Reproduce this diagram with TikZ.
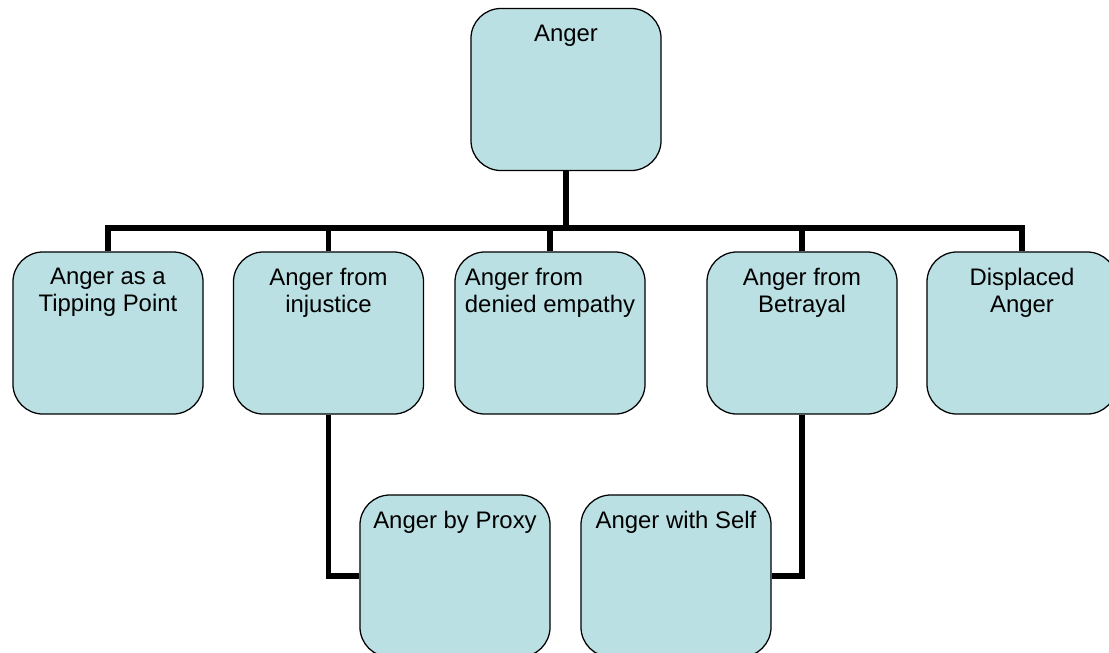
\documentclass[tikz,border=0pt]{standalone}
\usepackage{fontspec}
\setmainfont{Liberation Sans}
\definecolor{boxblue}{RGB}{187,224,227}
\begin{document}
\begin{tikzpicture}[x=0.025cm,y=-0.025cm,
  box/.style={draw=black, line width=0.9pt, fill=boxblue, rounded corners=0.75cm,
    minimum width=4.75cm, minimum height=4.05cm, inner sep=0pt},
  lbl/.style={anchor=north, yshift=-0.42cm, inner sep=0pt, align=center,
    font=\fontsize{17}{19.2}\selectfont},
  link/.style={line width=3.8pt}]

\useasboundingbox (0,0) rectangle (1109,652);
\clip (0,0) rectangle (1109,652);

% top
\node[box, label={[lbl]north:Anger}] (anger) at (566,89.5) {};

% second row
\node[box, label={[lbl]north:{Anger as a\\Tipping Point}}] (tipping) at (108,333) {};
\node[box, label={[lbl]north:{Anger from\\injustice}}] (injustice) at (328.5,333) {};
\node[box, label={[lbl,align=left]north:{Anger from\\denied empathy}}] (empathy) at (550,333) {};
\node[box, label={[lbl]north:{Anger from\\Betrayal}}] (betrayal) at (802,333) {};
\node[box, label={[lbl]north:{Displaced\\Anger}}] (displaced) at (1022,333) {};

% third row
\node[box, label={[lbl]north:Anger by Proxy}] (proxy) at (455,576) {};
\node[box, label={[lbl]north:Anger with Self}] (self) at (676,576) {};

\coordinate (bus) at (566,228);
\draw[link] (anger.south) -- (bus);
\draw[link] (tipping.north) |- (bus) -| (displaced.north);
\draw[link] (injustice.north) -- (injustice.north |- bus);
\draw[link] (empathy.north) -- (empathy.north |- bus);
\draw[link] (betrayal.north) -- (betrayal.north |- bus);

\draw[link] (injustice.south) |- (proxy.west);
\draw[link] (betrayal.south) |- (self.east);

\end{tikzpicture}
\end{document}
